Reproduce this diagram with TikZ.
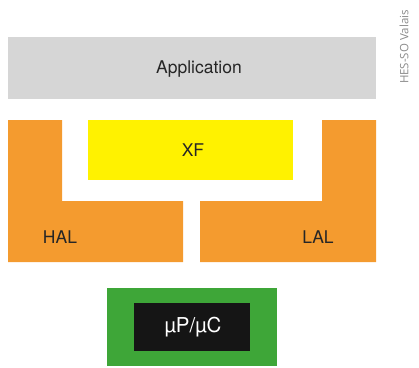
\documentclass[tikz,border=0pt]{standalone}
\usepackage{fontspec}
\setmainfont{TeX Gyre Heros}
\newfontfamily\sidefont{Open Sans}
\definecolor{appgray}{HTML}{D6D6D6}
\definecolor{halorange}{HTML}{F49B2F}
\definecolor{xfyellow}{HTML}{FFF200}
\definecolor{mcgreen}{HTML}{3EA638}
\definecolor{mcblack}{HTML}{151515}
\definecolor{sidegray}{HTML}{8A8A8A}
\tikzset{
  lbl/.style={font=\fontsize{17.5}{17.5}\selectfont, text=black!85, inner sep=0pt},
}
\begin{document}
\begin{tikzpicture}[x=1pt,y=-1pt]
\useasboundingbox (0,0) rectangle (419,367);
% Application
\fill[appgray] (8,37) rectangle (376,99);
\node[lbl] (app) at (199,69) {Application};
% XF
\fill[xfyellow] (88,120) rectangle (293,180);
\node[lbl] (xf) at (193,150) {XF};
% HAL
\fill[halorange] (8,120) -- (62,120) -- (62,201) -- (183,201) -- (183,262) -- (8,262) -- cycle;
\node[lbl] (hal) at (60,237) {HAL};
% LAL
\fill[halorange] (200,201) -- (322,201) -- (322,120) -- (376,120) -- (376,262) -- (200,262) -- cycle;
\node[lbl] (lal) at (318,237) {LAL};
% uP/uC
\fill[mcgreen] (107,288) rectangle (277,366);
\fill[mcblack] (134,303) rectangle (250,351);
\node[lbl, text=white, font=\fontsize{20.5}{20.5}\selectfont] (mc) at (193,327) {µP/µC};
% side label
\node[font=\sidefont\fontsize{11.5}{11.5}\selectfont, text=sidegray, rotate=90, inner sep=0pt] (side) at (404,47) {HES-SO Valais};
\end{tikzpicture}
\end{document}
